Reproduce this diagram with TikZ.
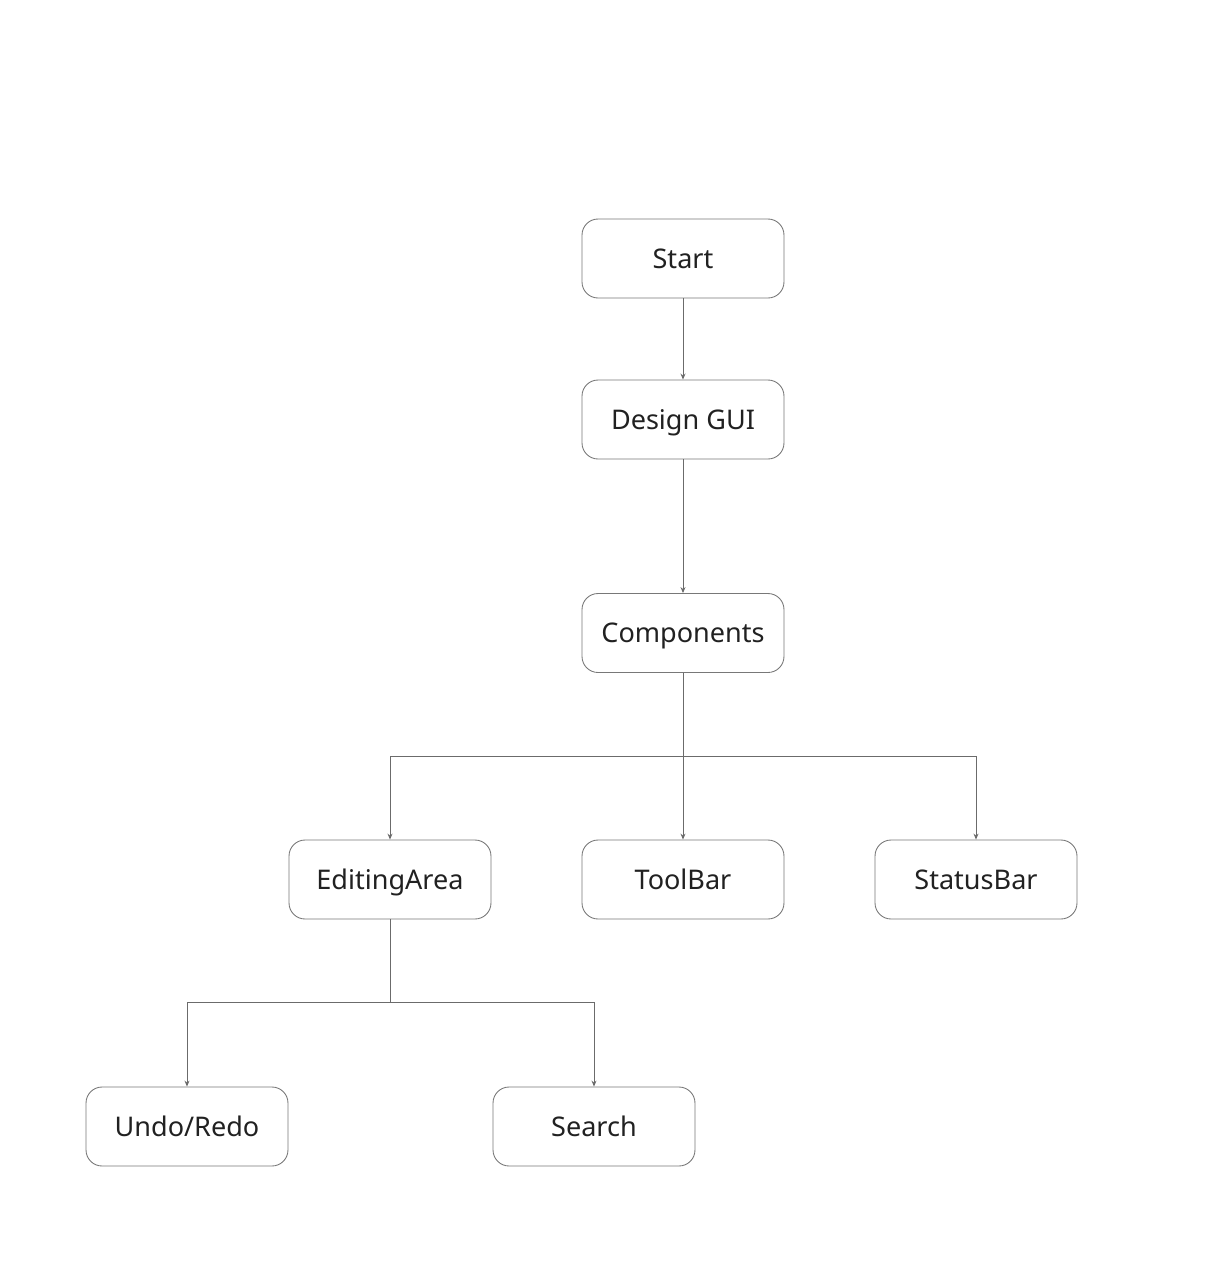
\documentclass[tikz,border=0pt]{standalone}
\usepackage{fontspec}
\setmainfont{Noto Sans}
\usetikzlibrary{arrows.meta}
\definecolor{boxline}{rgb}{0.47, 0.47, 0.47}
\definecolor{linkline}{rgb}{0.42, 0.42, 0.42}
\definecolor{labeltext}{rgb}{0.13, 0.13, 0.13}

\begin{document}
\begin{tikzpicture}[x=0.02cm, y=-0.02cm,
  block/.style={draw=boxline, line width=0.5pt, rounded corners=0.32cm,
    minimum width=4.04cm, minimum height=1.58cm, text=labeltext,
    text height=11pt, text depth=0pt, inner sep=0pt,
    font=\fontsize{15.4}{18}\selectfont},
  link/.style={draw=linkline, line width=0.5pt, -{Stealth[length=0.12cm, width=0.1cm]}}]
\useasboundingbox (0,0) rectangle (1219,1281);
% boxes
\node[block] (start) at (683,258.5) {Start};
\node[block] (design) at (683,419.5) {Design GUI};
\node[block] (comp) at (683,633) {Components};
\node[block] (edit) at (390,879.5) {EditingArea};
\node[block] (tool) at (683,879.5) {ToolBar};
\node[block] (status) at (976,879.5) {StatusBar};
\node[block] (undo) at (187,1126.5) {Undo/Redo};
\node[block] (search) at (594,1126.5) {Search};
% branch points
\coordinate (split1) at (683,756);
\coordinate (split2) at (390,1002);
% links
\draw[link] (start) -- (design);
\draw[link] (design) -- (comp);
\draw[link] (comp.south) -- (split1) -| (edit.north);
\draw[link] (comp.south) -- (tool.north);
\draw[link] (comp.south) -- (split1) -| (status.north);
\draw[link] (edit.south) -- (split2) -| (undo.north);
\draw[link] (edit.south) -- (split2) -| (search.north);
\end{tikzpicture}
\end{document}
